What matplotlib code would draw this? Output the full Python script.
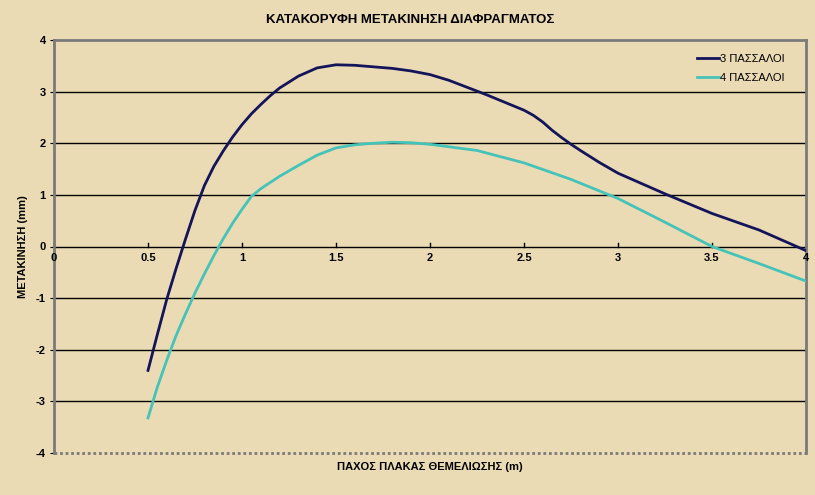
import matplotlib
matplotlib.use("Agg")
import matplotlib.pyplot as plt
import numpy as np

plt.rcParams['font.family'] = ['Liberation Sans', 'DejaVu Sans']

title = "ΚΑΤΑΚΟΡΥΦΗ ΜΕΤΑΚΙΝΗΣΗ ΔΙΑΦΡΑΓΜΑΤΟΣ"
xlabel = "ΠΑΧΟΣ ΠΛΑΚΑΣ ΘΕΜΕΛΙΩΣΗΣ (m)"
ylabel = "ΜΕΤΑΚΙΝΗΣΗ (mm)"
series_names = ["3 ΠΑΣΣΑΛΟΙ", "4 ΠΑΣΣΑΛΟΙ"]

x3 = [0.5, 0.55, 0.6, 0.65, 0.7, 0.75, 0.8, 0.85, 0.9, 0.95, 1.0, 1.05, 1.1, 1.15, 1.2,
      1.3, 1.4, 1.5, 1.6, 1.7, 1.8, 1.9, 2.0, 2.1, 2.2, 2.3, 2.4, 2.5, 2.55, 2.6, 2.65,
      2.7, 2.75, 2.8, 2.9, 3.0, 3.25, 3.5, 3.75, 4.0]
y3 = [-2.40, -1.70, -1.02, -0.42, 0.15, 0.70, 1.18, 1.55, 1.85, 2.12, 2.36, 2.57, 2.75,
      2.92, 3.07, 3.30, 3.46, 3.52, 3.51, 3.48, 3.45, 3.40, 3.33, 3.22, 3.08, 2.94, 2.79,
      2.64, 2.54, 2.41, 2.25, 2.11, 1.98, 1.86, 1.63, 1.42, 1.02, 0.64, 0.32, -0.08]

x4 = [0.5, 0.55, 0.6, 0.65, 0.7, 0.75, 0.8, 0.85, 0.9, 0.95, 1.0, 1.05, 1.1, 1.2, 1.3,
      1.4, 1.5, 1.6, 1.7, 1.8, 1.9, 2.0, 2.25, 2.5, 2.75, 3.0, 3.25, 3.5, 3.75, 4.0]
y4 = [-3.32, -2.72, -2.20, -1.72, -1.30, -0.90, -0.53, -0.18, 0.15, 0.45, 0.72, 0.97,
      1.12, 1.36, 1.57, 1.77, 1.91, 1.97, 2.0, 2.02, 2.01, 1.98, 1.86, 1.62, 1.30, 0.93,
      0.47, 0.0, -0.33, -0.67]

xticks = [0, 0.5, 1, 1.5, 2, 2.5, 3, 3.5, 4]
xticklabels = ["0", "0.5", "1", "1.5", "2", "2.5", "3", "3.5", "4"]
yticks = [-4, -3, -2, -1, 0, 1, 2, 3, 4]

bg = "#EBDBB5"
fig = plt.figure(figsize=(8.15, 4.95), dpi=100, facecolor=bg)
ax = fig.add_axes([54/815, 1-453/495, (806-54)/815, (453-40)/495])
ax.set_facecolor(bg)

ax.set_xlim(0, 4)
ax.set_ylim(-4, 4)

for yv in yticks:
    if yv in (-4, 4):
        continue
    ax.axhline(yv, color="black", lw=1.0, zorder=1)

ax.plot(x3, y3, color="#14145A", lw=2.0, label=series_names[0], zorder=3,
        solid_joinstyle='round')
ax.plot(x4, y4, color="#45C3B8", lw=2.0, label=series_names[1], zorder=3,
        solid_joinstyle='round')

# spines: dotted grey frame
for s in ['top', 'right', 'left']:
    ax.spines[s].set_color("#7a7a7a")
    ax.spines[s].set_linestyle((0, (1, 1)))
    ax.spines[s].set_linewidth(2.0)
ax.spines['bottom'].set_visible(False)
ax.plot([0, 4], [-4, -4], color="#7a7a7a", lw=2.0, ls=(0, (1, 1)), clip_on=False, zorder=2)

ax.set_xticks(xticks)
ax.set_xticklabels([])
ax.set_yticks(yticks)
ax.set_yticklabels([str(v) for v in yticks], fontsize=8, fontweight='bold')
ax.tick_params(axis='y', length=3, color="black", pad=3)
ax.tick_params(axis='x', length=0)
for xv, lab in zip(xticks, xticklabels):
    ax.plot([xv, xv], [0, 0.06], color="black", lw=1, zorder=2, clip_on=False)
    ax.text(xv, -0.13, lab, ha='center', va='top', fontsize=8, fontweight='bold', zorder=4)

fig.text(410/815, 1-20/495, title, ha='center', va='center', fontsize=9.5, fontweight='bold')
fig.text(430/815, 1-467/495, xlabel, ha='center', va='center', fontsize=8, fontweight='bold')
fig.text(23/815, 1-247/495, ylabel, ha='center', va='center', fontsize=8, fontweight='bold', rotation=90)

leg = ax.legend(loc='upper right', bbox_to_anchor=(0.985, 0.99), frameon=False, fontsize=8,
                handlelength=2.0, handletextpad=0.1, labelspacing=0.8)

fig.savefig("out.png", dpi=100, facecolor=bg)
